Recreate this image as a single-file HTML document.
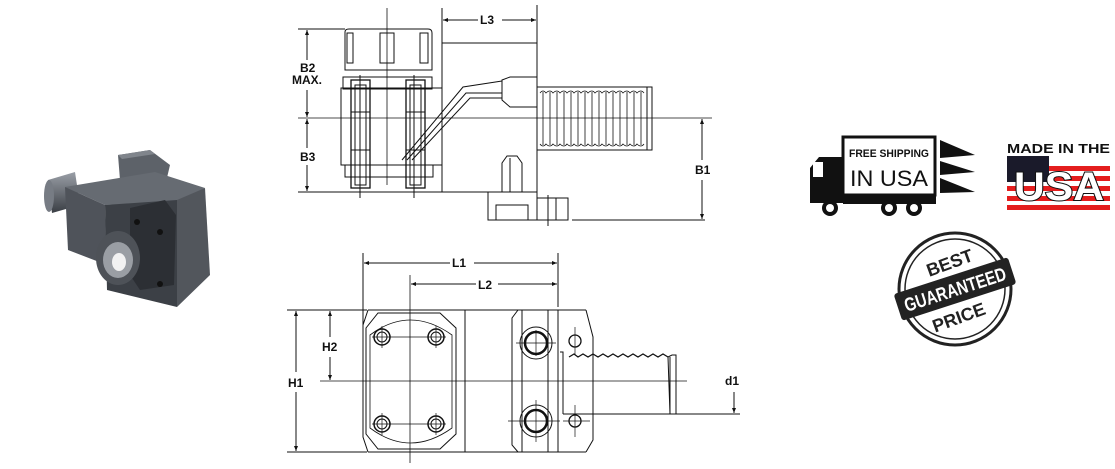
<!DOCTYPE html>
<html><head><meta charset="utf-8"><style>
html,body{margin:0;padding:0;background:#fff;width:1115px;height:469px;overflow:hidden}
svg{display:block}
text{font-family:"Liberation Sans",sans-serif;font-weight:bold}
</style></head><body>
<svg width="1115" height="469" viewBox="0 0 1115 469" xmlns="http://www.w3.org/2000/svg">
<defs>
<marker id="a" viewBox="0 0 10 10" refX="10" refY="5" markerWidth="7" markerHeight="5" orient="auto-start-reverse"><path d="M0,1 L10,5 L0,9 z" fill="#111"/></marker>
<linearGradient id="g2" x1="0" y1="0" x2="0" y2="1"><stop offset="0" stop-color="#9a9fa7"/><stop offset="1" stop-color="#3a3e44"/></linearGradient>
</defs>

<!-- Photo of tool holder -->
<g>
<path d="M48,180 L75,172 L80,205 L52,213 Z" fill="url(#g2)"/>
<ellipse cx="49" cy="196" rx="5" ry="16" fill="#777c84"/>
<polygon points="118,155 150,150 170,165 166,182 120,180" fill="#5d6269"/>
<polygon points="118,155 150,150 155,154 122,159" fill="#80858c"/>
<polygon points="65,187 155,172 205,188 177,203 105,205" fill="#666b72"/>
<polygon points="65,187 105,205 107,265 68,250" fill="#4f535a"/>
<polygon points="105,205 177,200 177,307 107,290" fill="#3c4046"/>
<polygon points="177,200 205,188 210,275 177,307" fill="#52565c"/>
<polygon points="130,208 165,200 176,215 174,285 140,290 130,275" fill="#2c2f34"/>
<circle cx="137" cy="222" r="3" fill="#111"/><circle cx="160" cy="232" r="3" fill="#111"/><circle cx="160" cy="284" r="3" fill="#111"/>
<ellipse cx="118" cy="258" rx="22" ry="27" fill="#4e5258"/>
<ellipse cx="118" cy="260" rx="15" ry="18" fill="#9a9ea4"/>
<ellipse cx="119" cy="262" rx="7" ry="9" fill="#f2f2f2"/>
</g>

<g fill="none" stroke="#111" stroke-width="1">
<!-- ===== TOP VIEW ===== -->
<line x1="387" y1="8" x2="387" y2="185" stroke-width="0.8"/>
<line x1="298" y1="118" x2="712" y2="118" stroke-width="0.8"/>
<path d="M345,32 Q345,29 349,29 L428,29 Q432,29 432,33 L432,70 L345,70 Z"/>
<rect x="347" y="33" width="6" height="30"/><rect x="380" y="33" width="14" height="30"/><rect x="420" y="33" width="8" height="30"/>
<rect x="343" y="77" width="89" height="12"/>
<rect x="341" y="88" width="101" height="77"/>
<rect x="345" y="165" width="88" height="12"/>
<rect x="351" y="80" width="19" height="108" stroke-width="1.3"/>
<rect x="355" y="85" width="11" height="100"/>
<rect x="406" y="80" width="19" height="108" stroke-width="1.3"/>
<rect x="410" y="85" width="11" height="100"/>
<line x1="360" y1="75" x2="360" y2="198"/><line x1="414" y1="75" x2="414" y2="198"/>
<line x1="351" y1="112" x2="370" y2="112"/><line x1="351" y1="150" x2="370" y2="150"/>
<line x1="406" y1="112" x2="425" y2="112"/><line x1="406" y1="150" x2="425" y2="150"/>
<polyline points="442,88 442,43 537,43 537,198"/>
<polyline points="298,192 442,192 442,163"/>
<line x1="442" y1="192" x2="488" y2="192"/>
<polyline points="402,160 463,87 502,81"/>
<polyline points="407,160 466,93 502,93"/>
<polyline points="412,160 470,98 502,98"/>
<path d="M502,80 L510,77 L537,77 L537,107 L510,107 L502,100 Z"/>
<rect x="537" y="87" width="115" height="63"/>
<line x1="647" y1="87" x2="647" y2="150"/>
<g stroke-width="0.8">
<path d="M543,92 L543,145 M550,92 L550,145 M557,92 L557,145 M564,92 L564,145 M571,92 L571,145 M578,92 L578,145 M585,92 L585,145 M592,92 L592,145 M599,92 L599,145 M606,92 L606,145 M613,92 L613,145 M620,92 L620,145 M627,92 L627,145 M634,92 L634,145 M641,92 L641,145"/>
<path d="M540,93 Q543,89 546,93 Q550,89 553,93 Q557,89 560,93 Q564,89 567,93 Q571,89 574,93 Q578,89 581,93 Q585,89 588,93 Q592,89 595,93 Q599,89 602,93 Q606,89 609,93 Q613,89 616,93 Q620,89 623,93 Q627,89 630,93 Q634,89 637,93 Q641,89 644,93"/>
<path d="M540,144 Q543,148 546,144 Q550,148 553,144 Q557,148 560,144 Q564,148 567,144 Q571,148 574,144 Q578,148 581,144 Q585,148 588,144 Q592,148 595,144 Q599,148 602,144 Q606,148 609,144 Q613,148 616,144 Q620,148 623,144 Q627,148 630,144 Q634,148 637,144 Q641,148 644,144"/>
</g>
<rect x="488" y="192" width="49" height="28"/>
<polyline points="496,220 496,205 528,205 528,220"/>
<path d="M502,192 L502,163 L507,156 L517,156 L522,163 L522,192"/>
<line x1="510" y1="158" x2="510" y2="192"/>
<rect x="537" y="198" width="31" height="22"/>
<line x1="548" y1="195" x2="548" y2="226"/><line x1="556" y1="198" x2="556" y2="220"/>
<line x1="572" y1="220" x2="705" y2="220"/>
<line x1="442" y1="8" x2="442" y2="43"/><line x1="537" y1="5" x2="537" y2="43"/>
<line x1="443" y1="20" x2="478" y2="20" marker-start="url(#a)"/><line x1="502" y1="20" x2="536" y2="20" marker-end="url(#a)"/>
<line x1="298" y1="29" x2="345" y2="29"/>
<line x1="307" y1="30" x2="307" y2="60" marker-start="url(#a)"/><line x1="307" y1="90" x2="307" y2="117" marker-end="url(#a)"/>
<line x1="307" y1="119" x2="307" y2="148" marker-start="url(#a)"/><line x1="307" y1="165" x2="307" y2="191" marker-end="url(#a)"/>
<line x1="702" y1="119" x2="702" y2="160" marker-start="url(#a)"/><line x1="702" y1="180" x2="702" y2="219" marker-end="url(#a)"/>

<!-- ===== BOTTOM VIEW ===== -->
<line x1="410" y1="275" x2="410" y2="463" stroke-width="0.8"/>
<line x1="320" y1="381" x2="687" y2="381" stroke-width="0.8"/>
<line x1="287" y1="310" x2="367" y2="310"/><line x1="287" y1="452" x2="367" y2="452"/>
<line x1="363" y1="253" x2="363" y2="330"/><line x1="558" y1="253" x2="558" y2="307"/>
<line x1="364" y1="263" x2="450" y2="263" marker-start="url(#a)"/><line x1="474" y1="263" x2="557" y2="263" marker-end="url(#a)"/>
<line x1="411" y1="284" x2="476" y2="284" marker-start="url(#a)"/><line x1="498" y1="284" x2="557" y2="284" marker-end="url(#a)"/>
<line x1="296" y1="311" x2="296" y2="372" marker-start="url(#a)"/><line x1="296" y1="392" x2="296" y2="451" marker-end="url(#a)"/>
<line x1="330" y1="311" x2="330" y2="337" marker-start="url(#a)"/><line x1="330" y1="357" x2="330" y2="380" marker-end="url(#a)"/>
<line x1="734" y1="392" x2="734" y2="413" marker-end="url(#a)"/>
<line x1="676" y1="414" x2="740" y2="414"/>
<line x1="368" y1="310" x2="586" y2="310"/><line x1="368" y1="452" x2="586" y2="452"/>
<path d="M368,310 L363,325 L363,437 L368,452"/>
<path d="M586,310 L593,337 L593,440 L586,452"/>
<path d="M378,313 L440,313 L456,328 L456,434 L440,449 L378,449 L366,434 L366,328 Z"/>
<path d="M370,335 Q410,305 452,335 L452,428 Q410,458 370,428 Z" stroke-width="0.8"/>
<line x1="465" y1="310" x2="465" y2="452"/>
<path d="M518,310 L512,318 L512,445 L518,452"/>
<line x1="522" y1="310" x2="522" y2="452"/><line x1="548" y1="310" x2="548" y2="452"/><line x1="558" y1="310" x2="558" y2="452"/>
<g>
<circle cx="382" cy="337" r="8" stroke-width="1.5"/><circle cx="382" cy="337" r="5"/>
<circle cx="436" cy="337" r="8" stroke-width="1.5"/><circle cx="436" cy="337" r="5"/>
<circle cx="382" cy="424" r="8" stroke-width="1.5"/><circle cx="382" cy="424" r="5"/>
<circle cx="436" cy="424" r="8" stroke-width="1.5"/><circle cx="436" cy="424" r="5"/>
<line x1="372" y1="337" x2="446" y2="337" stroke-width="0.7"/><line x1="372" y1="424" x2="446" y2="424" stroke-width="0.7"/>
<line x1="382" y1="326" x2="382" y2="348" stroke-width="0.7"/><line x1="436" y1="326" x2="436" y2="348" stroke-width="0.7"/>
<line x1="382" y1="413" x2="382" y2="435" stroke-width="0.7"/><line x1="436" y1="413" x2="436" y2="435" stroke-width="0.7"/>
<circle cx="536" cy="343" r="16"/><circle cx="536" cy="343" r="11" stroke-width="2.5"/>
<circle cx="536" cy="421" r="16"/><circle cx="536" cy="421" r="11" stroke-width="2.5"/>
<line x1="516" y1="343" x2="556" y2="343" stroke-width="0.7"/><line x1="536" y1="330" x2="536" y2="356" stroke-width="0.7"/>
<line x1="508" y1="421" x2="560" y2="421" stroke-width="0.7"/><line x1="536" y1="400" x2="536" y2="442" stroke-width="0.7"/>
<circle cx="575" cy="341" r="6" stroke-width="1.3"/><circle cx="575" cy="421" r="6" stroke-width="1.3"/>
<line x1="575" y1="327" x2="575" y2="355" stroke-width="0.7"/><line x1="575" y1="405" x2="575" y2="437" stroke-width="0.7"/>
<line x1="563" y1="421" x2="590" y2="421" stroke-width="0.7"/>
</g>
<polyline points="560,352 563,352 563,414"/>
<line x1="563" y1="414" x2="670" y2="414"/>
<path d="M569,357 L574,354 L578,357 L583,354 L588,357 L593,354 L598,357 L603,354 L608,357 L613,354 L618,357 L623,354 L628,357 L633,354 L638,357 L643,354 L648,357 L653,354 L658,357 L663,354 L668,357" stroke-width="1.3"/>
<path d="M668,357 L672,355 L676,355 L676,414 L670,414 Z"/>
<line x1="670" y1="357" x2="670" y2="414"/>
</g>

<g font-size="12" fill="#111">
<text x="480" y="24">L3</text>
<text x="300" y="72">B2</text>
<text x="292" y="84">MAX.</text>
<text x="300" y="161">B3</text>
<text x="695" y="174">B1</text>
<text x="452" y="267">L1</text>
<text x="478" y="289">L2</text>
<text x="288" y="387">H1</text>
<text x="322" y="351">H2</text>
<text x="725" y="385">d1</text>
</g>

<!-- Free shipping truck -->
<g>
<rect x="843" y="137" width="92" height="58" fill="#fff" stroke="#111" stroke-width="3"/>
<text x="849" y="157" font-size="11" fill="#111" textLength="80" lengthAdjust="spacingAndGlyphs">FREE SHIPPING</text>
<text x="850" y="186" font-size="22" fill="#111" textLength="78" lengthAdjust="spacingAndGlyphs" style="font-weight:normal">IN USA</text>
<path d="M810,203 L810,168 L819,157 L843,157 L843,203 Z" fill="#111"/>
<rect x="813" y="162" width="10" height="15" fill="#fff"/>
<rect x="843" y="195" width="93" height="9" fill="#111"/>
<polygon points="940,140 975,155 940,158" fill="#111"/>
<polygon points="940,161 975,172 940,175" fill="#111"/>
<polygon points="940,178 975,192 940,193" fill="#111"/>
<circle cx="830" cy="208" r="8" fill="#111"/><circle cx="830" cy="208" r="4" fill="#fff"/>
<circle cx="889" cy="208" r="8" fill="#111"/><circle cx="889" cy="208" r="4" fill="#fff"/>
<circle cx="914" cy="208" r="8" fill="#111"/><circle cx="914" cy="208" r="4" fill="#fff"/>
</g>

<!-- Made in USA -->
<g>
<text x="1007" y="153" font-size="12.5" fill="#111" textLength="103" lengthAdjust="spacingAndGlyphs">MADE IN THE</text>
<rect x="1007" y="166" width="103" height="5" fill="#e41d1d"/>
<rect x="1007" y="176" width="103" height="5" fill="#e41d1d"/>
<rect x="1007" y="186" width="103" height="5" fill="#e41d1d"/>
<rect x="1007" y="196" width="103" height="5" fill="#e41d1d"/>
<rect x="1007" y="205" width="103" height="5" fill="#e41d1d"/>
<rect x="1007" y="156" width="42" height="26" fill="#1a1a2a"/>
<text x="1014" y="200" font-size="40" fill="#fff" stroke="#111" stroke-width="2" paint-order="stroke" textLength="90" lengthAdjust="spacingAndGlyphs">USA</text>
</g>

<!-- Best price guaranteed -->
<g>
<circle cx="955" cy="289" r="56" fill="#fff" stroke="#222" stroke-width="3"/>
<circle cx="955" cy="289" r="50" fill="none" stroke="#222" stroke-width="1.5"/>
<text x="925" y="267" font-size="18" fill="#222" transform="rotate(-20 955 260)">BEST</text>
<text x="932" y="325" font-size="18" fill="#222" transform="rotate(-20 955 320)">PRICE</text>
<g transform="rotate(-18 955 289)">
<rect x="895" y="275" width="120" height="28" rx="3" fill="#222"/>
<text x="902" y="296" font-size="19" fill="#fff" textLength="106" lengthAdjust="spacingAndGlyphs">GUARANTEED</text>
</g>
</g>
</svg>
</body></html>
